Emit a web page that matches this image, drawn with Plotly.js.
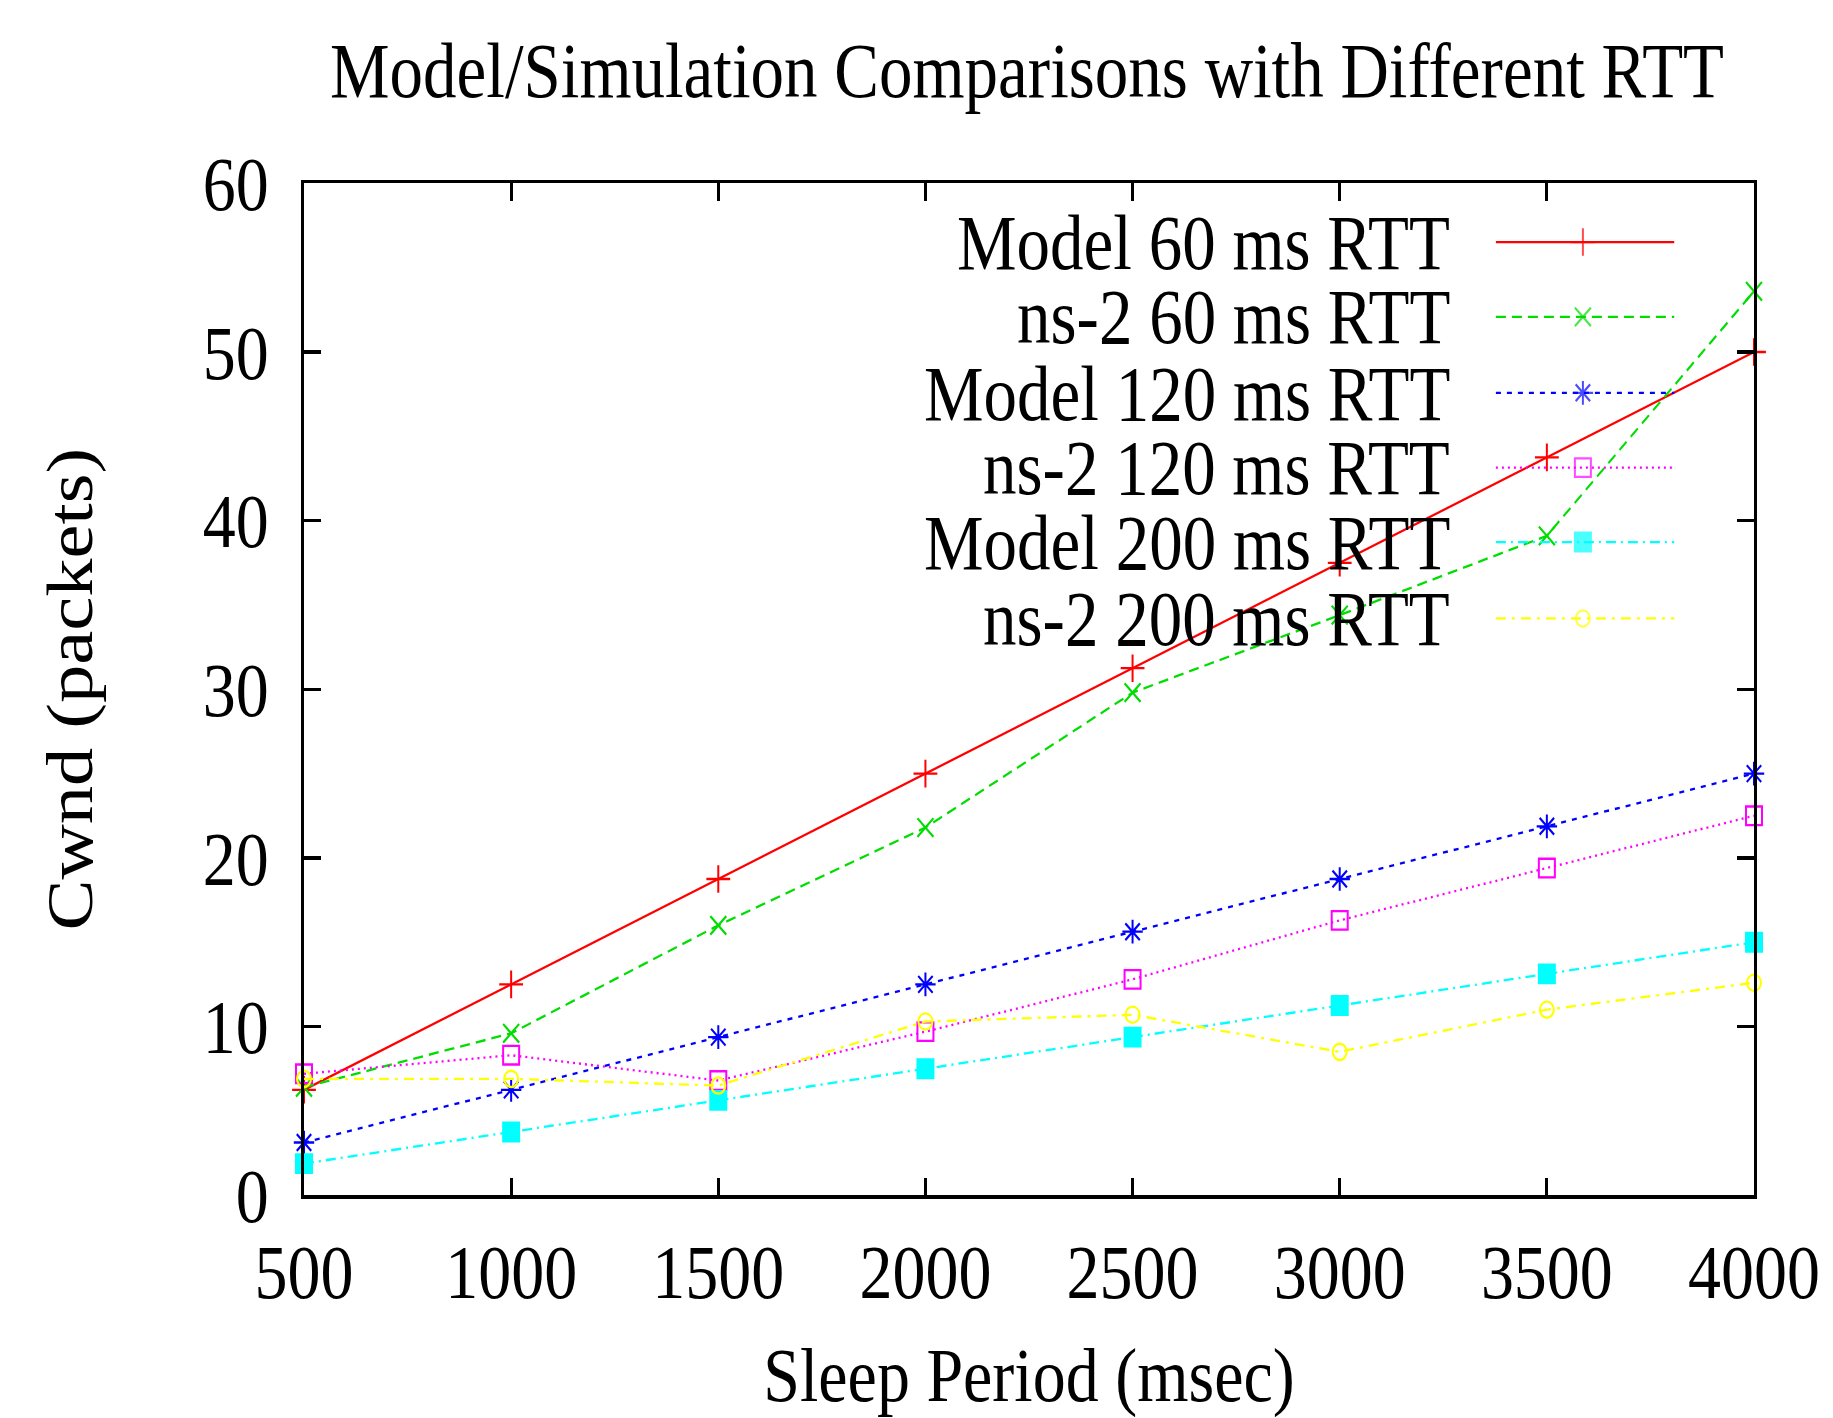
<!DOCTYPE html>
<html>
<head>
<meta charset="utf-8">
<script src="https://cdn.plot.ly/plotly-3.0.1.min.js"></script>
<style>
  html, body { margin: 0; padding: 0; background: #ffffff; }
  #wrap { width: 1833px; height: 1418px; overflow: hidden; background: #ffffff; }
  #chart { width: 1833px; height: 1222px; transform: scaleY(1.1604); transform-origin: 0 0; }
</style>
</head>
<body>
<div id="wrap"><div id="chart"></div></div>
<script>
// ---- data ----
const sleepPeriod = [500, 1000, 1500, 2000, 2500, 3000, 3500, 4000];
const model60  = [6.25, 12.5, 18.75, 25, 31.25, 37.5, 43.75, 50];
const ns2_60   = [6.4, 9.6, 16.0, 21.8, 29.8, 34.4, 39.1, 53.6];
const model120 = [3.125, 6.25, 9.375, 12.5, 15.625, 18.75, 21.875, 25];
const ns2_120  = [7.2, 8.3, 6.8, 9.7, 12.8, 16.3, 19.4, 22.5];
const model200 = [1.875, 3.75, 5.625, 7.5, 9.375, 11.25, 13.125, 15];
const ns2_200  = [6.9, 6.9, 6.5, 10.3, 10.7, 8.5, 11.0, 12.6];

const seriesNames = ["Model 60 ms RTT", "ns-2 60 ms RTT", "Model 120 ms RTT",
                     "ns-2 120 ms RTT", "Model 200 ms RTT", "ns-2 200 ms RTT"];
const seriesValues = [model60, ns2_60, model120, ns2_120, model200, ns2_200];
const xTicks = [500, 1000, 1500, 2000, 2500, 3000, 3500, 4000];
const yTicks = [0, 10, 20, 30, 40, 50, 60];

// ---- styles ----
const styles = [
  {color: "#ff0000", dash: "solid",              symbol: "cross-thin-open",  size: 17},
  {color: "#00dd00", dash: "10px,6px",           symbol: "x-thin-open",      size: 16},
  {color: "#0000ff", dash: "5px,6px",            symbol: "asterisk-open",    size: 17},
  {color: "#ff00ff", dash: "2px,4px",            symbol: "square-open",      size: 16},
  {color: "#00ffff", dash: "10px,5px,2px,5px",   symbol: "square",           size: 16},
  {color: "#ffff00", dash: "10px,6px,3px,6px",   symbol: "circle-open",      size: 14}
];

const FONT = "Liberation Serif, Times New Roman, serif";
const traces = [];
seriesValues.forEach((vals, i) => {
  const s = styles[i];
  traces.push({
    type: "scatter", mode: "lines+markers", name: seriesNames[i],
    x: sleepPeriod, y: vals, cliponaxis: false, showlegend: false,
    line: {color: s.color, width: 2, dash: s.dash},
    marker: {symbol: s.symbol, size: s.size, color: s.color,
             line: {color: s.color, width: 2}}
  });
});

// ---- legend keys (gnuplot style: text on the left, sample on the right) ----
const keyX = [0.822, 0.882, 0.945];
const keyRows = [0.942, 0.868, 0.793, 0.719, 0.6455, 0.570];
const annotations = [];
seriesNames.forEach((nm, i) => {
  const s = styles[i];
  traces.push({
    type: "scatter", mode: "lines+markers", xaxis: "x2", yaxis: "y2",
    x: keyX, y: [keyRows[i], keyRows[i], keyRows[i]], cliponaxis: false,
    showlegend: false, hoverinfo: "skip",
    line: {color: s.color, width: 2, dash: s.dash},
    marker: {symbol: s.symbol, size: [0, s.size, 0], color: s.color,
             line: {color: s.color, width: 2}}
  });
  annotations.push({
    xref: "paper", yref: "paper", x: 0.7917, y: keyRows[i],
    xanchor: "right", yanchor: "middle", showarrow: false,
    text: nm, font: {family: FONT, size: 67, color: "#000000"}
  });
});

const axisCommon = {
  showline: true, linecolor: "#000000", linewidth: 3, mirror: "ticks",
  ticks: "inside", tickwidth: 3, tickcolor: "#000000",
  showgrid: false, zeroline: false, automargin: false,
  tickfont: {family: FONT, size: 66, color: "#000000"}
};

const layout = {
  width: 1833, height: 1222,
  margin: {l: 304, r: 79, t: 158, b: 192, pad: 0},
  paper_bgcolor: "#ffffff", plot_bgcolor: "#ffffff",
  font: {family: FONT, color: "#000000"},
  title: {text: "Model/Simulation Comparisons with Different RTT",
          font: {family: FONT, size: 67, color: "#000000"},
          xref: "container", yref: "container", x: 0.5603, y: 0.951,
          xanchor: "center", yanchor: "middle"},
  xaxis: Object.assign({}, axisCommon, {
    range: [500, 4000], tickvals: xTicks, ticktext: xTicks.map(String),
    ticklen: 15, ticklabelstandoff: 6,
    title: {text: "Sleep Period (msec)", font: {family: FONT, size: 66, color: "#000000"}, standoff: 80}
  }),
  yaxis: Object.assign({}, axisCommon, {
    range: [0, 60], tickvals: yTicks, ticktext: yTicks.map(String),
    ticklen: 17, ticklabelstandoff: 19,
    title: {text: "Cwnd (packets)", font: {family: FONT, size: 66, color: "#000000"}, standoff: 89}
  }),
  xaxis2: {overlaying: "x", anchor: "y2", range: [0, 1], visible: false, fixedrange: true},
  yaxis2: {overlaying: "y", anchor: "x2", range: [0, 1], visible: false, fixedrange: true},
  annotations: annotations,
  showlegend: false
};

Plotly.newPlot("chart", traces, layout, {displayModeBar: false, staticPlot: true});
</script>
</body>
</html>
